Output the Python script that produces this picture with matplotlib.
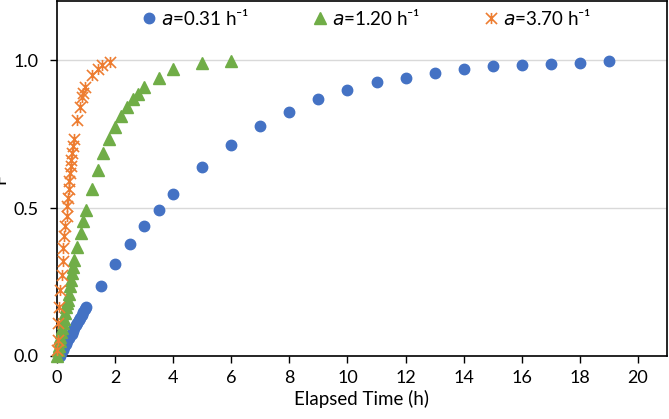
import matplotlib
matplotlib.use('Agg')
import matplotlib.pyplot as plt
from matplotlib.path import Path

# a = 0.31 1/h
blue_t = [0.1, 0.15, 0.2, 0.25, 0.3, 0.35, 0.4, 0.45, 0.5, 0.55, 0.6, 0.65, 0.7, 0.75,
          0.8, 0.85, 0.9, 0.95, 1.0, 1.5, 2.0, 2.5, 3.0, 3.5, 4.0, 5.0, 6.0, 7.0, 8.0,
          9.0, 10.0, 11.0, 12.0, 13.0, 14.0, 15.0, 16.0, 17.0, 18.0, 19.0]
blue_F = [0.0, 0.01, 0.02, 0.03, 0.04, 0.05, 0.06, 0.07, 0.075, 0.085, 0.095, 0.105,
          0.11, 0.12, 0.13, 0.14, 0.15, 0.158, 0.167, 0.238, 0.312, 0.377, 0.441, 0.495,
          0.549, 0.64, 0.714, 0.776, 0.826, 0.868, 0.90, 0.925, 0.941, 0.958, 0.971,
          0.98, 0.984, 0.988, 0.992, 0.997]

# a = 1.20 1/h
green_t = [0.0, 0.03, 0.06, 0.09, 0.12, 0.15, 0.18, 0.21, 0.24, 0.27, 0.31, 0.34, 0.37,
           0.41, 0.45, 0.49, 0.53, 0.56, 0.6, 0.7, 0.82, 0.89, 1.0, 1.2, 1.4, 1.6, 1.8,
           2.0, 2.2, 2.4, 2.6, 2.8, 3.0, 3.5, 4.0, 5.0, 6.0]
green_F = [0.0, 0.02, 0.035, 0.05, 0.065, 0.08, 0.095, 0.11, 0.125, 0.145, 0.167, 0.178,
           0.19, 0.21, 0.235, 0.258, 0.28, 0.30, 0.325, 0.37, 0.415, 0.455, 0.493, 0.566,
           0.628, 0.685, 0.732, 0.774, 0.811, 0.84, 0.868, 0.887, 0.91, 0.941, 0.969,
           0.989, 0.998]

# a = 3.70 1/h
orange_t = [0.0, 0.02, 0.04, 0.06, 0.12, 0.16, 0.2, 0.22, 0.25, 0.29, 0.33, 0.36, 0.38,
            0.4, 0.42, 0.45, 0.47, 0.49, 0.52, 0.55, 0.59, 0.69, 0.8, 0.86, 0.91, 0.96,
            1.2, 1.4, 1.55, 1.83]
orange_F = [0.02, 0.054, 0.11, 0.167, 0.224, 0.275, 0.32, 0.365, 0.404, 0.438, 0.472,
            0.506, 0.535, 0.563, 0.591, 0.619, 0.642, 0.664, 0.687, 0.71, 0.732, 0.798,
            0.843, 0.875, 0.89, 0.91, 0.95, 0.97, 0.984, 0.995]

labels = [r'$a$=0.31 h⁻¹', r'$a$=1.20 h⁻¹', r'$a$=3.70 h⁻¹']
x_ticks = list(range(0, 21, 2))
y_ticks = [0.0, 0.5, 1.0]

# excel style star: an X with a vertical bar
star = Path([(-1, -1), (1, 1), (-1, 1), (1, -1), (0, -1), (0, 1)],
            [Path.MOVETO, Path.LINETO, Path.MOVETO, Path.LINETO, Path.MOVETO, Path.LINETO])

plt.rcParams['font.family'] = ['Lato', 'DejaVu Sans']
plt.rcParams['mathtext.fontset'] = 'dejavusans'

fig = plt.figure(figsize=(6.69, 4.19), dpi=100)
ax = fig.add_axes([0.0852, 0.1504, 0.9118, 0.8472])

ax.plot(blue_t, blue_F, 'o', ms=7.5, color='#4472C4', mec='#4472C4',
        clip_on=False, zorder=3, label=labels[0])
ax.plot(green_t, green_F, '^', ms=8, color='#70AD47', mec='#70AD47',
        clip_on=False, zorder=4, label=labels[1])
ax.plot(orange_t, orange_F, ls='none', marker=star, ms=8, mew=1.2,
        color='#ED7D31', clip_on=False, zorder=5, label=labels[2])

ax.set_xlim(0, 21)
ax.set_ylim(0, 1.2)
ax.set_xticks(x_ticks)
ax.set_yticks(y_ticks)
ax.set_yticklabels(['%.1f' % v for v in y_ticks])
ax.tick_params(axis='both', labelsize=13, length=5, width=1, direction='out',
               colors='black')
ax.tick_params(axis='x', pad=5)
ax.tick_params(axis='y', pad=8)

ax.grid(axis='y', color='#d9d9d9', linewidth=1)
ax.set_axisbelow(True)
for s in ax.spines.values():
    s.set_color('black')
    s.set_linewidth(1.2)

ax.set_xlabel('Elapsed Time (h)', fontsize=13.5, labelpad=3)
ax.set_ylabel('F', fontsize=13)
ax.yaxis.set_label_coords(-0.08, 0.5)

ax.legend(loc='center', bbox_to_anchor=(0.505, 0.952), ncol=3, frameon=False,
          fontsize=13.5, handletextpad=0.1, columnspacing=3.2, handlelength=1.1,
          borderaxespad=0)

fig.savefig('out.png', dpi=100)
